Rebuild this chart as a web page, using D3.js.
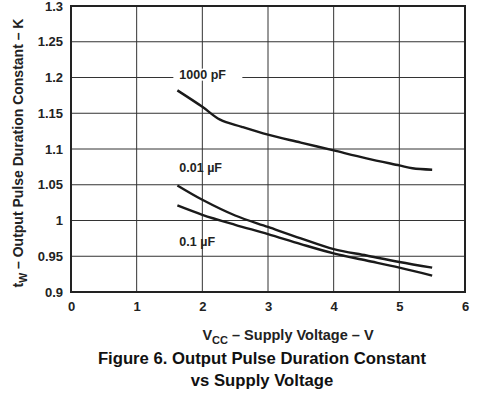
<!DOCTYPE html>
<html>
<head>
<meta charset="utf-8">
<script src="https://cdn.jsdelivr.net/npm/d3@7"></script>
<style>
  body { margin: 0; background: #fff; }
  svg { display: block; font-family: "Liberation Sans", Arial, sans-serif; }
</style>
</head>
<body>
<div id="chart"></div>
<script>
// supply voltage (V) and pulse duration constant K
var v1000pF = [1.62, 2.0, 2.27, 2.6, 3.0, 3.5, 4.0, 4.5, 5.0, 5.2, 5.5];
var k1000pF = [1.182, 1.159, 1.141, 1.131, 1.120, 1.109, 1.098, 1.087, 1.077, 1.073, 1.071];

var v001uF = [1.62, 2.0, 2.5, 3.0, 3.5, 4.0, 4.5, 5.0, 5.5];
var k001uF = [1.049, 1.029, 1.007, 0.991, 0.975, 0.960, 0.951, 0.942, 0.934];

var v01uF = [1.62, 2.0, 2.5, 3.0, 3.5, 4.0, 4.5, 5.0, 5.5];
var k01uF = [1.021, 1.008, 0.994, 0.981, 0.967, 0.954, 0.944, 0.934, 0.923];

var xTicks = [0, 1, 2, 3, 4, 5, 6];
var yTicks = [0.9, 0.95, 1, 1.05, 1.1, 1.15, 1.2, 1.25, 1.3];
var seriesNames = ["1000 pF", "0.01 \u00b5F", "0.1 \u00b5F"];

var width = 485,
	height = 395,
	margin = { left: 71, right: 20, top: 6, bottom: 103 };

var svg = d3.select("#chart").append("svg")
	.attr("width", width)
	.attr("height", height);

var x = d3.scaleLinear().domain([0, 6]).range([margin.left, width - margin.right]);
var y = d3.scaleLinear().domain([0.9, 1.3]).range([height - margin.bottom, margin.top]);

// grid
var grid = svg.append("g").attr("class", "grid");
grid.selectAll(".vgrid")
	.data(xTicks.slice(1, -1))
	.enter().append("line")
	.attr("x1", function(d) { return x(d); })
	.attr("x2", function(d) { return x(d); })
	.attr("y1", y(0.9))
	.attr("y2", y(1.3))
	.style("stroke", "#333")
	.style("stroke-width", 1);

grid.selectAll(".hgrid")
	.data(yTicks.slice(1, -1))
	.enter().append("line")
	.attr("x1", x(0))
	.attr("x2", x(6))
	.attr("y1", function(d) { return y(d); })
	.attr("y2", function(d) { return y(d); })
	.style("stroke", "#333")
	.style("stroke-width", 1);

// frame
svg.append("rect")
	.attr("x", x(0))
	.attr("y", y(1.3))
	.attr("width", x(6) - x(0))
	.attr("height", y(0.9) - y(1.3))
	.style("fill", "none")
	.style("stroke", "#222")
	.style("stroke-width", 2);

// tick labels
var yAxis = d3.axisLeft(y).tickValues(yTicks).tickSize(0).tickPadding(8)
	.tickFormat(function(d) { return String(+d.toFixed(2)); });
svg.append("g")
	.attr("transform", "translate(" + x(0) + ",0)")
	.call(yAxis)
	.call(function(g) { g.select(".domain").remove(); })
	.selectAll("text")
	.style("font-size", "13px")
	.style("font-weight", "bold")
	.style("fill", "#222");

var xAxis = d3.axisBottom(x).tickValues(xTicks).tickSize(0).tickPadding(10)
	.tickFormat(d3.format("d"));
svg.append("g")
	.attr("transform", "translate(0," + y(0.9) + ")")
	.call(xAxis)
	.call(function(g) { g.select(".domain").remove(); })
	.selectAll("text")
	.style("font-size", "13px")
	.style("font-weight", "bold")
	.style("fill", "#222");

// curves
var series = [
	{ name: seriesNames[0], v: v1000pF, k: k1000pF },
	{ name: seriesNames[1], v: v001uF, k: k001uF },
	{ name: seriesNames[2], v: v01uF, k: k01uF }
];

var line = d3.line()
	.x(function(d) { return x(d[0]); })
	.y(function(d) { return y(d[1]); })
	.curve(d3.curveCatmullRom.alpha(0.5));

svg.selectAll(".curve")
	.data(series)
	.enter().append("path")
	.attr("d", function(s) { return line(d3.zip(s.v, s.k)); })
	.style("fill", "none")
	.style("stroke", "#1a1a1a")
	.style("stroke-width", 2.4);

// curve labels, positioned in data coordinates
var labelPos = [[1.65, 1.204], [1.65, 1.074], [1.65, 0.97]];
var labels = svg.selectAll(".lbl")
	.data(series)
	.enter().append("g")
	.attr("transform", function(d, i) {
		return "translate(" + x(labelPos[i][0]) + "," + y(labelPos[i][1]) + ")";
	});

labels.filter(function(d, i) { return i === 0; })
	.append("rect")
	.attr("x", -6)
	.attr("y", -6)
	.attr("width", 69)
	.attr("height", 12)
	.style("fill", "#fff");

labels.append("text")
	.attr("dy", "0.35em")
	.text(function(d) { return d.name; })
	.style("font-size", "12.5px")
	.style("font-weight", "bold")
	.style("fill", "#222");

// axis titles
var yTitle = svg.append("text")
	.attr("transform", "translate(23," + ((y(0.9) + y(1.3)) / 2 + 4) + ") rotate(-90)")
	.attr("text-anchor", "middle")
	.style("font-size", "14px")
	.style("font-weight", "bold")
	.style("fill", "#222");
yTitle.append("tspan").text("t");
yTitle.append("tspan").attr("dy", 4).style("font-size", "10.5px").text("W");
yTitle.append("tspan").attr("dy", -4).text(" \u2013 Output Pulse Duration Constant \u2013 K");

var xTitle = svg.append("text")
	.attr("x", 288)
	.attr("y", 340)
	.attr("text-anchor", "middle")
	.style("font-size", "14.5px")
	.style("font-weight", "bold")
	.style("fill", "#222");
xTitle.append("tspan").text("V");
xTitle.append("tspan").attr("dy", 4).style("font-size", "11px").text("CC");
xTitle.append("tspan").attr("dy", -4).text(" \u2013 Supply Voltage \u2013 V");

// caption
svg.append("text")
	.attr("x", 262)
	.attr("y", 364)
	.attr("text-anchor", "middle")
	.style("font-size", "16.7px")
	.style("font-weight", "bold")
	.style("fill", "#111")
	.text("Figure 6. Output Pulse Duration Constant");

svg.append("text")
	.attr("x", 262)
	.attr("y", 386)
	.attr("text-anchor", "middle")
	.style("font-size", "16.7px")
	.style("font-weight", "bold")
	.style("fill", "#111")
	.text("vs Supply Voltage");
</script>
</body>
</html>
